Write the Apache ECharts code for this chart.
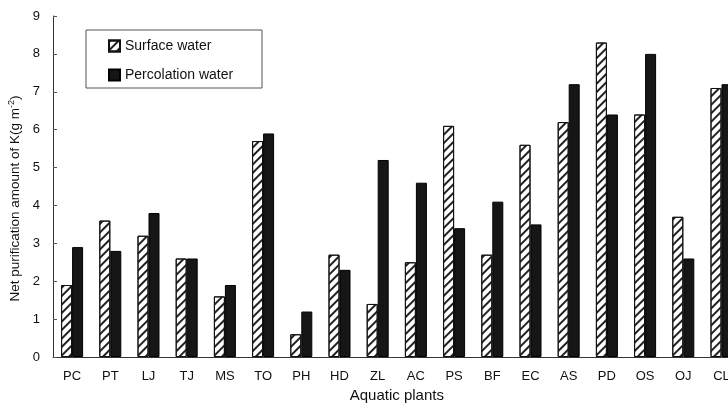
<!DOCTYPE html>
<html><head><meta charset="utf-8">
<script src="https://cdn.jsdelivr.net/npm/echarts@6/dist/echarts.min.js"></script>
<style>html,body{margin:0;padding:0;background:#fff}#c{width:728px;height:405px}</style>
</head><body><div id="c"></div>
<script>
const categories = ['PC','PT','LJ','TJ','MS','TO','PH','HD','ZL','AC','PS','BF','EC','AS','PD','OS','OJ','CL'];
const surfaceWater = [1.9,3.6,3.2,2.6,1.6,5.7,0.6,2.7,1.4,2.5,6.1,2.7,5.6,6.2,8.3,6.4,3.7,7.1];
const percolationWater = [2.9,2.8,3.8,2.6,1.9,5.9,1.2,2.3,5.2,4.6,3.4,4.1,3.5,7.2,6.4,8.0,2.6,7.2];
const yTicks = [0,1,2,3,4,5,6,7,8,9];

const font = '"Liberation Sans", Arial, sans-serif';
const chart = echarts.init(document.getElementById('c'), null, {renderer:'canvas'});
chart.setOption({
  backgroundColor:'#fff',
  animation:false,
  grid:{left:53, top:16, bottom:48, width:687.6, containLabel:false, outerBoundsMode:'none'},
  legend:{
    orient:'vertical', left:108, top:39, padding:0, itemGap:15, icon:'rect',
    itemWidth:11, itemHeight:11,
    textStyle:{fontFamily:font, fontSize:14, color:'#111'},
    data:['Surface water','Percolation water']
  },
  graphic:[{type:'rect', shape:{x:86,y:30,width:176,height:58}, style:{fill:'none', stroke:'#555', lineWidth:1}}],
  xAxis:{
    type:'category', data:categories,
    name:'Aquatic plants', nameLocation:'middle', nameGap:31,
    nameTextStyle:{fontFamily:font, fontSize:15, color:'#111'},
    axisLine:{lineStyle:{color:'#333', width:1}},
    axisTick:{inside:true, length:3, lineStyle:{color:'#555'}},
    axisLabel:{fontFamily:font, fontSize:13, color:'#111', margin:13}
  },
  yAxis:{
    type:'value', min:yTicks[0], max:yTicks[yTicks.length-1], interval:1,
    name:'Net purification amount of K(g m{sup|-2})', nameLocation:'middle', nameGap:28, nameRotate:90,
    nameTextStyle:{fontFamily:font, fontSize:13.5, color:'#111', padding:[0,24,0,0],
      rich:{sup:{fontFamily:font, fontSize:9, verticalAlign:'top', padding:[0,0,7,0]}}},
    axisLine:{show:true, lineStyle:{color:'#333', width:1}},
    axisTick:{show:true, inside:true, length:4, lineStyle:{color:'#555'}},
    splitLine:{show:false},
    axisLabel:{fontFamily:font, fontSize:13, color:'#111', margin:13}
  },
  series:[
    {name:'Surface water', type:'bar', data:surfaceWater, barWidth:11, barGap:'0%',
     itemStyle:{color:'#fff', borderColor:'#111', borderWidth:1,
       decal:{symbol:'rect', symbolSize:1, dashArrayX:[1,0], dashArrayY:[1.2,3.2], rotation:-Math.PI/4, color:'#222'}}},
    {name:'Percolation water', type:'bar', data:percolationWater, barWidth:11,
     itemStyle:{color:'#161616', borderColor:'#000', borderWidth:1}}
  ]
});
</script></body></html>
